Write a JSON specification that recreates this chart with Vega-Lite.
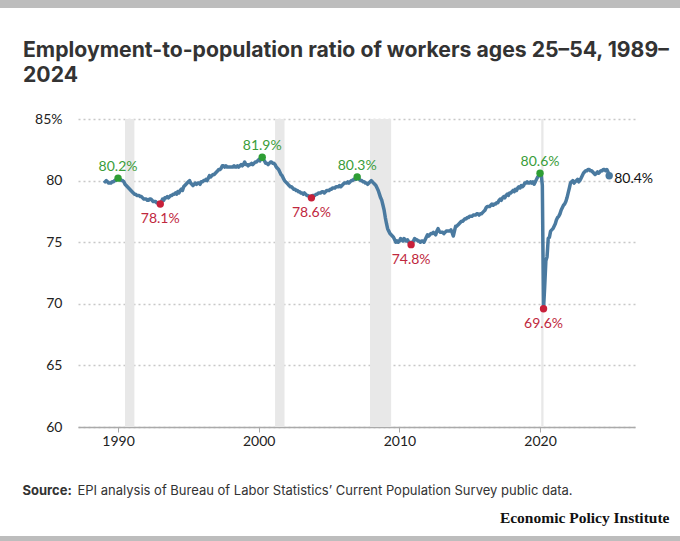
{
  "$schema": "https://vega.github.io/schema/vega-lite/v6.json",
  "width": 557,
  "height": 308,
  "autosize": {"type": "none"},
  "padding": {"left": 78, "top": 119, "right": 45, "bottom": 114},
  "background": "white",
  "config": {
    "view": {"stroke": null},
    "font": "Lato",
    "axis": {"labelFont": "Lato", "titleFont": "Inter"},
    "text": {"font": "Lato"}
  },
  "title": {
    "text": ["Employment-to-population ratio of workers ages 25–54, 1989–", "2024"],
    "anchor": "start",
    "frame": "group",
    "dx": -55,
    "offset": -86,
    "fontSize": 21.2,
    "font": "Inter",
    "fontWeight": "bold",
    "color": "#333333",
    "lineHeight": 25
  },
  "datasets": {
    "epop": [
      {"date":"1989-01","v":80.0},{"date":"1989-02","v":79.9},{"date":"1989-03","v":80.0},{"date":"1989-04","v":79.9},{"date":"1989-05","v":79.8},{"date":"1989-06","v":79.8},{"date":"1989-07","v":79.8},{"date":"1989-08","v":79.9},{"date":"1989-09","v":79.9},{"date":"1989-10","v":80.0},{"date":"1989-11","v":80.0},{"date":"1989-12","v":80.1},
      {"date":"1990-01","v":80.2},{"date":"1990-02","v":80.1},{"date":"1990-03","v":80.1},{"date":"1990-04","v":80.0},{"date":"1990-05","v":80.0},{"date":"1990-06","v":79.9},{"date":"1990-07","v":79.7},{"date":"1990-08","v":79.6},{"date":"1990-09","v":79.5},{"date":"1990-10","v":79.4},{"date":"1990-11","v":79.3},{"date":"1990-12","v":79.2},
      {"date":"1991-01","v":79.1},{"date":"1991-02","v":79.0},{"date":"1991-03","v":78.9},{"date":"1991-04","v":78.9},{"date":"1991-05","v":78.8},{"date":"1991-06","v":78.8},{"date":"1991-07","v":78.8},{"date":"1991-08","v":78.7},{"date":"1991-09","v":78.7},{"date":"1991-10","v":78.6},{"date":"1991-11","v":78.5},{"date":"1991-12","v":78.5},
      {"date":"1992-01","v":78.5},{"date":"1992-02","v":78.4},{"date":"1992-03","v":78.4},{"date":"1992-04","v":78.5},{"date":"1992-05","v":78.5},{"date":"1992-06","v":78.4},{"date":"1992-07","v":78.3},{"date":"1992-08","v":78.3},{"date":"1992-09","v":78.3},{"date":"1992-10","v":78.2},{"date":"1992-11","v":78.2},{"date":"1992-12","v":78.2},
      {"date":"1993-01","v":78.1},{"date":"1993-02","v":78.3},{"date":"1993-03","v":78.5},{"date":"1993-04","v":78.4},{"date":"1993-05","v":78.6},{"date":"1993-06","v":78.6},{"date":"1993-07","v":78.7},{"date":"1993-08","v":78.6},{"date":"1993-09","v":78.7},{"date":"1993-10","v":78.8},{"date":"1993-11","v":78.8},{"date":"1993-12","v":78.9},
      {"date":"1994-01","v":78.9},{"date":"1994-02","v":79.0},{"date":"1994-03","v":78.9},{"date":"1994-04","v":79.1},{"date":"1994-05","v":79.0},{"date":"1994-06","v":79.2},{"date":"1994-07","v":79.3},{"date":"1994-08","v":79.2},{"date":"1994-09","v":79.5},{"date":"1994-10","v":79.6},{"date":"1994-11","v":79.7},{"date":"1994-12","v":79.8},
      {"date":"1995-01","v":79.9},{"date":"1995-02","v":80.0},{"date":"1995-03","v":79.8},{"date":"1995-04","v":79.7},{"date":"1995-05","v":79.6},{"date":"1995-06","v":79.7},{"date":"1995-07","v":79.8},{"date":"1995-08","v":79.7},{"date":"1995-09","v":79.8},{"date":"1995-10","v":79.8},{"date":"1995-11","v":79.7},{"date":"1995-12","v":79.9},
      {"date":"1996-01","v":79.9},{"date":"1996-02","v":80.0},{"date":"1996-03","v":80.0},{"date":"1996-04","v":80.1},{"date":"1996-05","v":80.0},{"date":"1996-06","v":80.2},{"date":"1996-07","v":80.4},{"date":"1996-08","v":80.3},{"date":"1996-09","v":80.4},{"date":"1996-10","v":80.5},{"date":"1996-11","v":80.5},{"date":"1996-12","v":80.6},
      {"date":"1997-01","v":80.7},{"date":"1997-02","v":80.8},{"date":"1997-03","v":80.9},{"date":"1997-04","v":80.9},{"date":"1997-05","v":81.0},{"date":"1997-06","v":81.2},{"date":"1997-07","v":81.2},{"date":"1997-08","v":81.1},{"date":"1997-09","v":81.2},{"date":"1997-10","v":81.1},{"date":"1997-11","v":81.1},{"date":"1997-12","v":81.1},
      {"date":"1998-01","v":81.1},{"date":"1998-02","v":81.1},{"date":"1998-03","v":81.1},{"date":"1998-04","v":81.2},{"date":"1998-05","v":81.1},{"date":"1998-06","v":81.1},{"date":"1998-07","v":81.2},{"date":"1998-08","v":81.1},{"date":"1998-09","v":81.2},{"date":"1998-10","v":81.3},{"date":"1998-11","v":81.2},{"date":"1998-12","v":81.3},
      {"date":"1999-01","v":81.5},{"date":"1999-02","v":81.3},{"date":"1999-03","v":81.3},{"date":"1999-04","v":81.2},{"date":"1999-05","v":81.3},{"date":"1999-06","v":81.3},{"date":"1999-07","v":81.4},{"date":"1999-08","v":81.3},{"date":"1999-09","v":81.4},{"date":"1999-10","v":81.5},{"date":"1999-11","v":81.5},{"date":"1999-12","v":81.6},
      {"date":"2000-01","v":81.7},{"date":"2000-02","v":81.6},{"date":"2000-03","v":81.8},{"date":"2000-04","v":81.9},{"date":"2000-05","v":81.7},{"date":"2000-06","v":81.6},{"date":"2000-07","v":81.4},{"date":"2000-08","v":81.4},{"date":"2000-09","v":81.3},{"date":"2000-10","v":81.4},{"date":"2000-11","v":81.5},{"date":"2000-12","v":81.5},
      {"date":"2001-01","v":81.4},{"date":"2001-02","v":81.4},{"date":"2001-03","v":81.3},{"date":"2001-04","v":81.1},{"date":"2001-05","v":81.0},{"date":"2001-06","v":80.9},{"date":"2001-07","v":80.7},{"date":"2001-08","v":80.5},{"date":"2001-09","v":80.4},{"date":"2001-10","v":80.2},{"date":"2001-11","v":80.0},{"date":"2001-12","v":79.9},
      {"date":"2002-01","v":79.8},{"date":"2002-02","v":79.7},{"date":"2002-03","v":79.6},{"date":"2002-04","v":79.5},{"date":"2002-05","v":79.5},{"date":"2002-06","v":79.4},{"date":"2002-07","v":79.3},{"date":"2002-08","v":79.3},{"date":"2002-09","v":79.2},{"date":"2002-10","v":79.2},{"date":"2002-11","v":79.1},{"date":"2002-12","v":79.1},
      {"date":"2003-01","v":79.0},{"date":"2003-02","v":79.0},{"date":"2003-03","v":78.9},{"date":"2003-04","v":79.0},{"date":"2003-05","v":78.9},{"date":"2003-06","v":78.8},{"date":"2003-07","v":78.8},{"date":"2003-08","v":78.7},{"date":"2003-09","v":78.7},{"date":"2003-10","v":78.6},{"date":"2003-11","v":78.8},{"date":"2003-12","v":78.8},
      {"date":"2004-01","v":78.8},{"date":"2004-02","v":78.9},{"date":"2004-03","v":78.9},{"date":"2004-04","v":79.0},{"date":"2004-05","v":79.0},{"date":"2004-06","v":79.0},{"date":"2004-07","v":79.1},{"date":"2004-08","v":79.1},{"date":"2004-09","v":79.0},{"date":"2004-10","v":79.1},{"date":"2004-11","v":79.2},{"date":"2004-12","v":79.2},
      {"date":"2005-01","v":79.2},{"date":"2005-02","v":79.3},{"date":"2005-03","v":79.3},{"date":"2005-04","v":79.4},{"date":"2005-05","v":79.4},{"date":"2005-06","v":79.4},{"date":"2005-07","v":79.5},{"date":"2005-08","v":79.5},{"date":"2005-09","v":79.5},{"date":"2005-10","v":79.6},{"date":"2005-11","v":79.5},{"date":"2005-12","v":79.6},
      {"date":"2006-01","v":79.7},{"date":"2006-02","v":79.8},{"date":"2006-03","v":79.8},{"date":"2006-04","v":79.8},{"date":"2006-05","v":79.9},{"date":"2006-06","v":79.8},{"date":"2006-07","v":79.9},{"date":"2006-08","v":80.0},{"date":"2006-09","v":80.0},{"date":"2006-10","v":80.1},{"date":"2006-11","v":80.1},{"date":"2006-12","v":80.1},
      {"date":"2007-01","v":80.3},{"date":"2007-02","v":80.2},{"date":"2007-03","v":80.1},{"date":"2007-04","v":80.0},{"date":"2007-05","v":80.0},{"date":"2007-06","v":79.9},{"date":"2007-07","v":79.9},{"date":"2007-08","v":79.8},{"date":"2007-09","v":79.8},{"date":"2007-10","v":79.7},{"date":"2007-11","v":79.8},{"date":"2007-12","v":79.9},
      {"date":"2008-01","v":80.0},{"date":"2008-02","v":79.9},{"date":"2008-03","v":79.8},{"date":"2008-04","v":79.7},{"date":"2008-05","v":79.6},{"date":"2008-06","v":79.4},{"date":"2008-07","v":79.2},{"date":"2008-08","v":78.9},{"date":"2008-09","v":78.6},{"date":"2008-10","v":78.4},{"date":"2008-11","v":78.0},{"date":"2008-12","v":77.6},
      {"date":"2009-01","v":77.0},{"date":"2009-02","v":76.5},{"date":"2009-03","v":76.1},{"date":"2009-04","v":75.9},{"date":"2009-05","v":75.7},{"date":"2009-06","v":75.6},{"date":"2009-07","v":75.5},{"date":"2009-08","v":75.4},{"date":"2009-09","v":75.2},{"date":"2009-10","v":75.0},{"date":"2009-11","v":75.1},{"date":"2009-12","v":75.0},
      {"date":"2010-01","v":75.1},{"date":"2010-02","v":75.3},{"date":"2010-03","v":75.2},{"date":"2010-04","v":75.1},{"date":"2010-05","v":75.3},{"date":"2010-06","v":75.2},{"date":"2010-07","v":75.1},{"date":"2010-08","v":75.2},{"date":"2010-09","v":75.0},{"date":"2010-10","v":75.0},{"date":"2010-11","v":74.8},{"date":"2010-12","v":75.0},
      {"date":"2011-01","v":75.1},{"date":"2011-02","v":75.3},{"date":"2011-03","v":75.2},{"date":"2011-04","v":75.2},{"date":"2011-05","v":75.1},{"date":"2011-06","v":75.1},{"date":"2011-07","v":75.0},{"date":"2011-08","v":75.1},{"date":"2011-09","v":75.1},{"date":"2011-10","v":75.0},{"date":"2011-11","v":75.2},{"date":"2011-12","v":75.4},
      {"date":"2012-01","v":75.6},{"date":"2012-02","v":75.5},{"date":"2012-03","v":75.6},{"date":"2012-04","v":75.7},{"date":"2012-05","v":75.7},{"date":"2012-06","v":75.8},{"date":"2012-07","v":75.7},{"date":"2012-08","v":75.6},{"date":"2012-09","v":75.9},{"date":"2012-10","v":76.1},{"date":"2012-11","v":75.9},{"date":"2012-12","v":75.8},
      {"date":"2013-01","v":75.8},{"date":"2013-02","v":75.8},{"date":"2013-03","v":75.7},{"date":"2013-04","v":75.8},{"date":"2013-05","v":75.9},{"date":"2013-06","v":75.9},{"date":"2013-07","v":75.9},{"date":"2013-08","v":75.9},{"date":"2013-09","v":76.0},{"date":"2013-10","v":75.8},{"date":"2013-11","v":75.5},{"date":"2013-12","v":75.9},
      {"date":"2014-01","v":76.3},{"date":"2014-02","v":76.3},{"date":"2014-03","v":76.4},{"date":"2014-04","v":76.5},{"date":"2014-05","v":76.6},{"date":"2014-06","v":76.7},{"date":"2014-07","v":76.7},{"date":"2014-08","v":76.8},{"date":"2014-09","v":76.9},{"date":"2014-10","v":76.9},{"date":"2014-11","v":77.0},{"date":"2014-12","v":77.0},
      {"date":"2015-01","v":77.1},{"date":"2015-02","v":77.1},{"date":"2015-03","v":77.1},{"date":"2015-04","v":77.2},{"date":"2015-05","v":77.2},{"date":"2015-06","v":77.2},{"date":"2015-07","v":77.3},{"date":"2015-08","v":77.3},{"date":"2015-09","v":77.2},{"date":"2015-10","v":77.3},{"date":"2015-11","v":77.3},{"date":"2015-12","v":77.4},
      {"date":"2016-01","v":77.5},{"date":"2016-02","v":77.6},{"date":"2016-03","v":77.8},{"date":"2016-04","v":77.9},{"date":"2016-05","v":77.9},{"date":"2016-06","v":77.9},{"date":"2016-07","v":78.0},{"date":"2016-08","v":78.1},{"date":"2016-09","v":78.0},{"date":"2016-10","v":78.1},{"date":"2016-11","v":78.1},{"date":"2016-12","v":78.2},
      {"date":"2017-01","v":78.2},{"date":"2017-02","v":78.4},{"date":"2017-03","v":78.5},{"date":"2017-04","v":78.4},{"date":"2017-05","v":78.6},{"date":"2017-06","v":78.7},{"date":"2017-07","v":78.6},{"date":"2017-08","v":78.8},{"date":"2017-09","v":78.9},{"date":"2017-10","v":78.8},{"date":"2017-11","v":79.0},{"date":"2017-12","v":79.0},
      {"date":"2018-01","v":79.1},{"date":"2018-02","v":79.2},{"date":"2018-03","v":79.1},{"date":"2018-04","v":79.3},{"date":"2018-05","v":79.2},{"date":"2018-06","v":79.4},{"date":"2018-07","v":79.5},{"date":"2018-08","v":79.4},{"date":"2018-09","v":79.6},{"date":"2018-10","v":79.5},{"date":"2018-11","v":79.6},{"date":"2018-12","v":79.8},
      {"date":"2019-01","v":79.8},{"date":"2019-02","v":79.9},{"date":"2019-03","v":79.8},{"date":"2019-04","v":79.8},{"date":"2019-05","v":79.9},{"date":"2019-06","v":79.8},{"date":"2019-07","v":79.9},{"date":"2019-08","v":79.7},{"date":"2019-09","v":79.9},{"date":"2019-10","v":80.1},{"date":"2019-11","v":80.3},{"date":"2019-12","v":80.4},
      {"date":"2020-01","v":80.6},{"date":"2020-02","v":80.5},{"date":"2020-03","v":79.6},{"date":"2020-04","v":69.6},{"date":"2020-05","v":71.4},{"date":"2020-06","v":73.5},{"date":"2020-07","v":73.8},{"date":"2020-08","v":75.3},{"date":"2020-09","v":75.4},{"date":"2020-10","v":75.9},{"date":"2020-11","v":76.0},{"date":"2020-12","v":76.1},
      {"date":"2021-01","v":76.3},{"date":"2021-02","v":76.5},{"date":"2021-03","v":76.8},{"date":"2021-04","v":77.0},{"date":"2021-05","v":77.1},{"date":"2021-06","v":77.3},{"date":"2021-07","v":77.6},{"date":"2021-08","v":77.8},{"date":"2021-09","v":78.0},{"date":"2021-10","v":78.1},{"date":"2021-11","v":78.3},{"date":"2021-12","v":78.6},
      {"date":"2022-01","v":79.0},{"date":"2022-02","v":79.4},{"date":"2022-03","v":79.8},{"date":"2022-04","v":79.9},{"date":"2022-05","v":80.0},{"date":"2022-06","v":79.8},{"date":"2022-07","v":79.9},{"date":"2022-08","v":80.0},{"date":"2022-09","v":80.1},{"date":"2022-10","v":79.9},{"date":"2022-11","v":80.0},{"date":"2022-12","v":80.2},
      {"date":"2023-01","v":80.4},{"date":"2023-02","v":80.6},{"date":"2023-03","v":80.7},{"date":"2023-04","v":80.8},{"date":"2023-05","v":80.8},{"date":"2023-06","v":80.9},{"date":"2023-07","v":80.9},{"date":"2023-08","v":80.8},{"date":"2023-09","v":80.8},{"date":"2023-10","v":80.7},{"date":"2023-11","v":80.6},{"date":"2023-12","v":80.5},
      {"date":"2024-01","v":80.6},{"date":"2024-02","v":80.7},{"date":"2024-03","v":80.6},{"date":"2024-04","v":80.7},{"date":"2024-05","v":80.8},{"date":"2024-06","v":80.8},{"date":"2024-07","v":80.9},{"date":"2024-08","v":80.9},{"date":"2024-09","v":80.8},{"date":"2024-10","v":80.9},{"date":"2024-11","v":80.7},{"date":"2024-12","v":80.4}
    ],
    "rec": [
      {"start":"1990-07","end":"1991-03"},
      {"start":"2001-03","end":"2001-11"},
      {"start":"2007-12","end":"2009-06"},
      {"start":"2020-02","end":"2020-04"}
    ],
    "ann": [
      {"date":"1990-01","v":80.2,"kind":"peak","lab":"80.2%"},
      {"date":"1993-01","v":78.1,"kind":"trough","lab":"78.1%"},
      {"date":"2000-04","v":81.9,"kind":"peak","lab":"81.9%"},
      {"date":"2003-10","v":78.6,"kind":"trough","lab":"78.6%"},
      {"date":"2007-01","v":80.3,"kind":"peak","lab":"80.3%"},
      {"date":"2010-11","v":74.8,"kind":"trough","lab":"74.8%"},
      {"date":"2020-01","v":80.6,"kind":"peak","lab":"80.6%"},
      {"date":"2020-04","v":69.6,"kind":"trough","lab":"69.6%"},
      {"date":"2024-12","v":80.4,"kind":"last","lab":"80.4%"}
    ]
  },
  "layer": [
    {
      "data": {"values": [{"bar": "top"}]},
      "mark": {"type": "rect", "color": "#bdbdbd"},
      "encoding": {
        "x": {"datum": {"year": 1978}, "type": "temporal"},
        "x2": {"datum": {"year": 2034}},
        "y": {"datum": 94.0, "type": "quantitative", "axis": null},
        "y2": {"datum": 94.66}
      }
    },
    {
      "data": {"values": [{"bar": "bottom"}]},
      "mark": {"type": "rect", "color": "#bdbdbd"},
      "encoding": {
        "x": {"datum": {"year": 1978}, "type": "temporal"},
        "x2": {"datum": {"year": 2034}},
        "y": {"datum": 51.15, "type": "quantitative", "axis": null},
        "y2": {"datum": 45}
      }
    },
    {
      "data": {"name": "rec"},
      "mark": {"type": "rect", "color": "#e8e8e8"},
      "encoding": {
        "x": {"field": "start", "type": "temporal"},
        "x2": {"field": "end"},
        "y": {"datum": 60, "type": "quantitative", "axis": null},
        "y2": {"datum": 85}
      }
    },
    {
      "data": {"name": "epop"},
      "mark": {"type": "line", "color": "#4a7aa0", "strokeWidth": 3.5, "strokeJoin": "round"},
      "encoding": {
        "x": {
          "field": "date",
          "type": "temporal",
          "scale": {"domain": [{"year": 1987, "month": 2, "date": 26}, {"year": 2026, "month": 10, "date": 2}]},
          "axis": {
            "values": [{"year": 1990}, {"year": 2000}, {"year": 2010}, {"year": 2020}],
            "format": "%Y",
            "grid": false,
            "ticks": true,
            "tickSize": 5,
            "tickColor": "#aaaaaa",
            "domainColor": "#aaaaaa",
            "domainWidth": 1.5,
            "labelFontSize": 14,
            "labelColor": "#222222",
            "labelPadding": 2,
            "title": "EPI analysis of Bureau of Labor Statistics’ Current Population Survey public data.",
            "titleX": -1,
            "titleY": 67,
            "titleAlign": "left",
            "titleAnchor": "start",
            "titleBaseline": "alphabetic",
            "titleFont": "Inter",
            "titleFontSize": 13,
            "titleFontWeight": "normal",
            "titleColor": "#333333"
          }
        },
        "y": {
          "field": "v",
          "type": "quantitative",
          "scale": {"domain": [60, 85], "nice": false, "zero": false},
          "axis": {
            "values": [60, 65, 70, 75, 80, 85],
            "labelExpr": "datum.value == 85 ? '85%' : datum.label",
            "ticks": false,
            "domain": false,
            "grid": true,
            "gridDash": [2, 3],
            "gridColor": "#c8c8c8",
            "gridWidth": 1.5,
            "labelPadding": 16,
            "labelFontSize": 14,
            "labelColor": "#222222",
            "title": "Source:",
            "titleAngle": 0,
            "titleX": -56,
            "titleY": 375,
            "titleAlign": "left",
            "titleAnchor": "start",
            "titleBaseline": "alphabetic",
            "titleFont": "Inter",
            "titleFontSize": 13,
            "titleFontWeight": "bold",
            "titleColor": "#333333"
          }
        }
      }
    },
    {
      "data": {"name": "ann"},
      "mark": {"type": "point", "filled": true, "opacity": 1, "size": 55},
      "encoding": {
        "x": {"field": "date", "type": "temporal"},
        "y": {
          "field": "v",
          "type": "quantitative",
          "axis": {
            "orient": "right",
            "labels": false,
            "ticks": false,
            "domain": false,
            "grid": false,
            "title": "Economic Policy Institute",
            "titleAngle": 0,
            "titleX": 34,
            "titleY": 403,
            "titleAlign": "right",
            "titleAnchor": "end",
            "titleBaseline": "alphabetic",
            "titleFont": "Liberation Serif",
            "titleFontSize": 15.5,
            "titleFontWeight": "bold",
            "titleColor": "#111111"
          }
        },
        "color": {
          "field": "kind",
          "type": "nominal",
          "scale": {"domain": ["peak", "trough", "last"], "range": ["#2e9e34", "#c8203a", "#4a7aa0"]},
          "legend": null
        }
      }
    },
    {
      "data": {"name": "ann"},
      "transform": [{"filter": "datum.kind == 'peak'"}],
      "mark": {"type": "text", "align": "center", "baseline": "alphabetic", "dy": -7, "fontSize": 14, "color": "#3a9d3a"},
      "encoding": {
        "x": {"field": "date", "type": "temporal"},
        "y": {"field": "v", "type": "quantitative", "axis": null},
        "text": {"field": "lab"}
      }
    },
    {
      "data": {"name": "ann"},
      "transform": [{"filter": "datum.kind == 'trough'"}],
      "mark": {"type": "text", "align": "center", "baseline": "alphabetic", "dy": 19, "fontSize": 14, "color": "#c0283e"},
      "encoding": {
        "x": {"field": "date", "type": "temporal"},
        "y": {"field": "v", "type": "quantitative", "axis": null},
        "text": {"field": "lab"}
      }
    },
    {
      "data": {"name": "ann"},
      "transform": [{"filter": "datum.kind == 'last'"}],
      "mark": {"type": "text", "align": "left", "baseline": "alphabetic", "dx": 5, "dy": 7, "fontSize": 14, "color": "#111111"},
      "encoding": {
        "x": {"field": "date", "type": "temporal"},
        "y": {"field": "v", "type": "quantitative", "axis": null},
        "text": {"field": "lab"}
      }
    }
  ],
  "resolve": {"axis": {"y": "independent"}}
}
